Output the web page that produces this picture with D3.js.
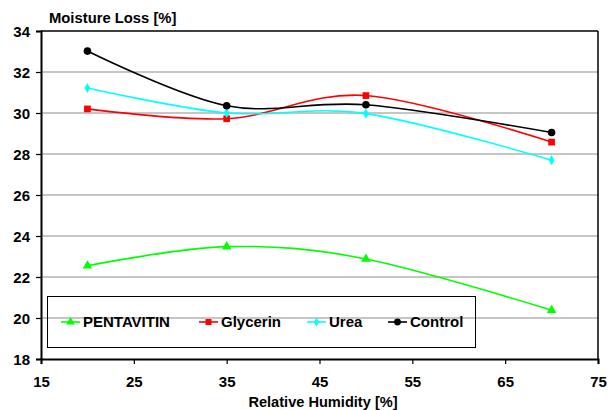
<!DOCTYPE html>
<html><head><meta charset="utf-8">
<script src="https://cdn.jsdelivr.net/npm/d3@7"></script>
<style>body{margin:0;background:#fff}svg{display:block}text{font-family:"Liberation Sans",Arial,sans-serif;font-weight:bold}</style>
</head><body><svg id="c" width="608" height="410"></svg>
<script>
const humidity = [20, 35, 50, 70];
const pentavitin = [22.55, 23.48, 22.88, 20.38];
const glycerin = [30.2, 29.72, 30.85, 28.58];
const urea = [31.22, 30.0, 29.97, 27.7];
const control = [33.02, 30.35, 30.4, 29.05];
const xTicks = [15, 25, 35, 45, 55, 65, 75];
const yTicks = [18, 20, 22, 24, 26, 28, 30, 32, 34];
const seriesNames = ["PENTAVITIN", "Glycerin", "Urea", "Control"];

const series = [
  {name: seriesNames[0], values: pentavitin, color: "#00ff00", sym: d3.symbolTriangle, size: 40},
  {name: seriesNames[1], values: glycerin, color: "#ff0000", sym: d3.symbolSquare, size: 45},
  {name: seriesNames[2], values: urea, color: "#00ffff", sym: d3.symbolDiamond, size: 30},
  {name: seriesNames[3], values: control, color: "#000000", sym: d3.symbolCircle, size: 45}
];

const svg = d3.select("#c");
const L = 41, R = 598, T = 31, B = 359;
const x = d3.scaleLinear().domain([15, 75]).range([L, R]);
const y = d3.scaleLinear().domain([18, 34]).range([B, T]);

// gridlines
svg.append("g").selectAll("line").data(yTicks.filter(v => v > 18 && v < 34)).join("line")
  .attr("x1", L).attr("x2", R).attr("y1", d => y(d)).attr("y2", d => y(d))
  .attr("stroke", "#8c8c8c").attr("stroke-width", 1);

// frame top/right
svg.append("line").attr("x1", L).attr("x2", R).attr("y1", T).attr("y2", T).attr("stroke", "#000").attr("stroke-width", 1.5);
svg.append("line").attr("x1", R).attr("x2", R).attr("y1", T).attr("y2", B).attr("stroke", "#000").attr("stroke-width", 1.5);

// axes
const yAxis = svg.append("g").attr("transform", `translate(${L},0)`)
  .call(d3.axisLeft(y).tickValues(yTicks).tickSize(5).tickPadding(6));
const xAxis = svg.append("g").attr("transform", `translate(0,${B})`)
  .call(d3.axisBottom(x).tickValues(xTicks).tickSize(5).tickPadding(12));
[yAxis, xAxis].forEach(a => {
  a.select(".domain").attr("stroke", "#000").attr("stroke-width", 2);
  a.selectAll(".tick line").attr("stroke", "#000").attr("stroke-width", 1.2);
  a.selectAll("text").attr("font-size", 15).attr("font-family", "Liberation Sans, Arial, sans-serif").attr("font-weight", "bold").attr("fill", "#000");
});
yAxis.selectAll("text").attr("dy", "0.36em");

// titles
svg.append("text").attr("x", 49).attr("y", 23).attr("font-size", 14.8).text("Moisture Loss [%]");
svg.append("text").attr("x", 323).attr("y", 407).attr("text-anchor", "middle").attr("font-size", 14.6).text("Relative Humidity [%]");

// lines
const line = d3.line().x(d => x(d[0])).y(d => y(d[1])).curve(d3.curveCardinal.tension(0));
series.forEach(s => {
  const pts = humidity.map((h, i) => [h, s.values[i]]);
  svg.append("path").attr("d", line(pts)).attr("fill", "none").attr("stroke", s.color).attr("stroke-width", 1.6);
  svg.append("g").selectAll("path").data(pts).join("path")
    .attr("transform", d => `translate(${x(d[0])},${y(d[1])})`)
    .attr("d", d3.symbol().type(s.sym).size(s.size)).attr("fill", s.color);
});

// legend
svg.append("rect").attr("x", 47.5).attr("y", 296.5).attr("width", 428).attr("height", 51)
  .attr("fill", "none").attr("stroke", "#000").attr("stroke-width", 1);
const legX = [61, 199, 307, 388];
series.forEach((s, i) => {
  const g = svg.append("g").attr("transform", `translate(${legX[i]},322)`);
  g.append("line").attr("x1", 0).attr("x2", 19).attr("y1", 0).attr("y2", 0).attr("stroke", s.color).attr("stroke-width", 1.6);
  g.append("path").attr("transform", "translate(9.5,0)").attr("d", d3.symbol().type(s.sym).size(s.size * 0.8)).attr("fill", s.color);
  g.append("text").attr("x", 22).attr("y", 0).attr("dy", "0.36em").attr("font-size", 15).text(s.name);
});
</script></body></html>
